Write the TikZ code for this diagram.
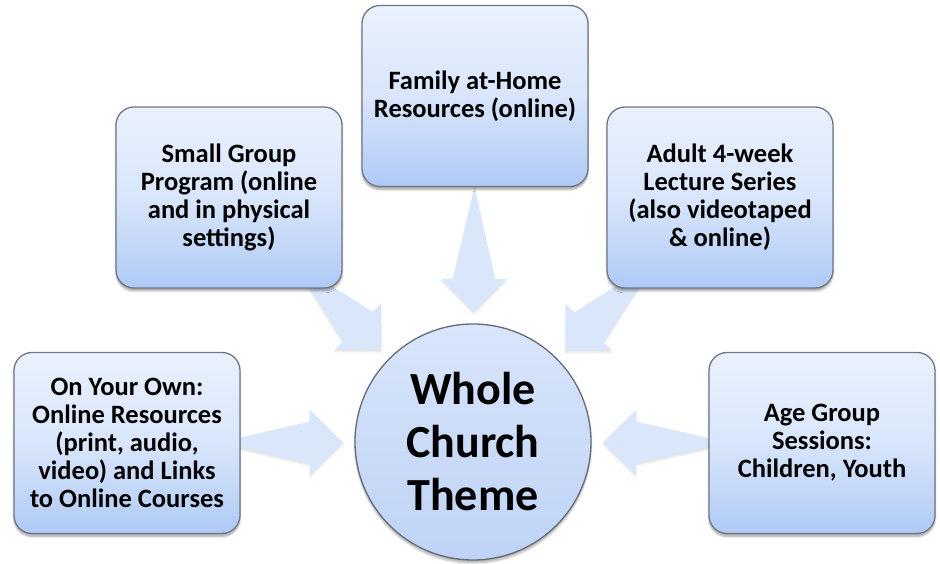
\documentclass[tikz,border=0pt]{standalone}
\usepackage{fontspec}
\setmainfont{Carlito}
\usetikzlibrary{calc,shadows.blur}
\definecolor{boxtop}{HTML}{EAF1FD}
\definecolor{boxbot}{HTML}{AFCAF5}
\definecolor{boxline}{HTML}{707684}
\definecolor{circtop}{HTML}{D9E5FA}
\definecolor{circbot}{HTML}{BED3F6}
\definecolor{arrowcol}{HTML}{DAE6FA}
\tikzset{
  itembox/.style={draw=boxline, line width=1.3pt, rounded corners=18pt,
    top color=boxtop, bottom color=boxbot, middle color=boxtop!70!boxbot,
    minimum width=226pt, minimum height=181pt, align=center,
    font=\bfseries\fontsize{26.5}{28}\selectfont, inner sep=4pt,
    blur shadow={shadow xshift=0pt, shadow yshift=-3pt, shadow blur steps=6, shadow opacity=35}},
  hubcircle/.style={circle, draw=boxline!90!black, line width=1.3pt,
    top color=circtop, bottom color=circbot,
    minimum size=236pt, inner sep=0pt, align=center,
    font=\bfseries\fontsize{46}{53}\selectfont,
    blur shadow={shadow xshift=0pt, shadow yshift=-3pt, shadow blur steps=6, shadow opacity=30}},
  blockarrowfill/.style={fill=arrowcol, draw=none,
    blur shadow={shadow xshift=0pt, shadow yshift=-2pt, shadow blur radius=2pt, shadow blur steps=4, shadow opacity=12}}
}
% #1 source node, #2 target node
\newcommand{\myblockarrow}[2]{%
  \path ($(#2.center)!130pt!(#1.center)$) coordinate (T)
        ($(T)!33pt!(#1.center)$) coordinate (H)
        (#1.center) coordinate (S);
  \path[blockarrowfill] (T) -- ($(H)!32.5pt!90:(T)$) -- ($(H)!21pt!90:(T)$)
     -- ($(S)!21pt!-90:(T)$) -- ($(S)!21pt!90:(T)$)
     -- ($(H)!21pt!-90:(T)$) -- ($(H)!32.5pt!-90:(T)$) -- cycle;
}
\begin{document}
\begin{tikzpicture}[x=1pt,y=1pt]
\useasboundingbox (0,0) rectangle (940,564);
\path (473,122) coordinate (cpos)
      (127,121) coordinate (ownpos)
      (229,366.5) coordinate (smallpos)
      (475,468) coordinate (familypos)
      (720,366.5) coordinate (adultpos)
      (822,121) coordinate (agepos);
% arrows first (behind boxes)
\myblockarrow{ownpos}{cpos}
\myblockarrow{smallpos}{cpos}
\myblockarrow{familypos}{cpos}
\myblockarrow{adultpos}{cpos}
\myblockarrow{agepos}{cpos}
% boxes
\node[itembox] (own) at (ownpos) {On Your Own:\\Online Resources\\(print, audio,\\video) and Links\\to Online Courses};
\node[itembox] (small) at (smallpos) {Small Group\\Program (online\\and in physical\\settings)};
\node[itembox] (family) at (familypos) {Family at-Home\\Resources (online)};
\node[itembox] (adult) at (adultpos) {Adult 4-week\\Lecture Series\\(also videotaped\\\& online)};
\node[itembox] (age) at (agepos) {Age Group\\Sessions:\\Children, Youth};
\node[hubcircle] (hub) at (cpos) {Whole\\Church\\Theme};
\end{tikzpicture}
\end{document}
